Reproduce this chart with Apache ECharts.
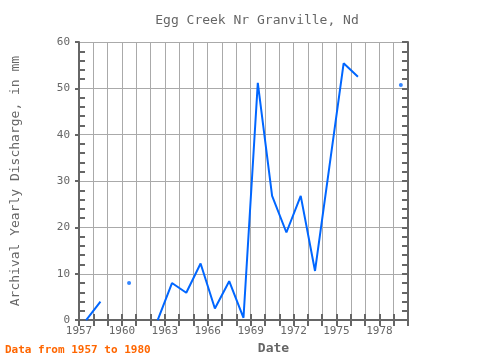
<!DOCTYPE html>
<html><head><meta charset="utf-8">
<script src="https://cdn.jsdelivr.net/npm/echarts@6/dist/echarts.min.js"></script>
<style>html,body{margin:0;padding:0;background:#fff}#c{width:480px;height:360px}</style>
</head><body><div id="c"></div>
<script>
var years = [1957.5,1958.5,1959.5,1960.5,1961.5,1962.5,1963.5,1964.5,1965.5,1966.5,1967.5,1968.5,1969.5,1970.5,1971.5,1972.5,1973.5,1974.5,1975.5,1976.5,1977.5,1978.5,1979.5];
var discharge = [0,4.0,null,8.0,null,0,8.0,5.9,12.2,2.5,8.4,0.5,51.2,26.8,18.9,26.8,10.6,33.0,55.4,52.5,null,null,50.7];
var xTicks = [1957,1960,1963,1966,1969,1972,1975,1978];
var yTicks = [0,10,20,30,40,50,60];

var lineData = years.map(function(y,i){return [y, discharge[i]];});
var isolated = [];
for (var i=0;i<discharge.length;i++){
  var v=discharge[i];
  if (v===null) continue;
  var prev = i>0 ? discharge[i-1] : null;
  var next = i<discharge.length-1 ? discharge[i+1] : null;
  if (prev===null && next===null) isolated.push([years[i], v]);
}
var font = 'DejaVu Sans Mono';
var grey = '#666';
var chart = echarts.init(document.getElementById('c'));
var xBase = {type:'value', min:1957, max:1980, interval:3,
  axisLine:{show:true, lineStyle:{color:grey,width:2}},
  axisTick:{show:true, inside:true, length:6, lineStyle:{color:grey,width:2}},
  minorTick:{show:true, splitNumber:3, length:6, lineStyle:{color:grey,width:2}},
  splitLine:{show:false}};
chart.setOption({
  animation:false,
  title:{text:'Egg Creek Nr Granville, Nd', left:252, top:9, textAlign:'center',
    textStyle:{fontFamily:font, fontSize:13, fontWeight:'normal', color:grey}},
  graphic:[{type:'text', left:5, top:345, style:{text:'Data from 1957 to 1980', fontFamily:font, fontSize:11, fontWeight:'bold', fill:'#ff6600'}}],
  grid:{left:79, right:72, top:42, bottom:39},
  xAxis:[
    Object.assign({}, xBase, {position:'bottom',
      name:'Date', nameLocation:'middle', nameGap:20,
      nameTextStyle:{fontFamily:font, fontSize:13, fontWeight:'bold', color:grey, padding:[0,0,0,60]},
      axisLabel:{fontFamily:font, fontSize:11, color:grey, margin:6,
        customValues: xTicks, formatter:function(v){return String(v);}},
      splitLine:{show:true, lineStyle:{color:'#aaa', width:1}},
      minorSplitLine:{show:true, lineStyle:{color:'#aaa', width:1}}}),
    Object.assign({}, xBase, {position:'top', axisLabel:{show:false}})
  ],
  yAxis:[
    {type:'value', min:0, max:60, interval:10, position:'left',
      name:'Archival Yearly Discharge, in mm', nameLocation:'middle', nameGap:57,
      nameTextStyle:{fontFamily:font, fontSize:13, color:grey},
      axisLine:{show:true, lineStyle:{color:grey,width:2}},
      axisTick:{show:true, inside:false, length:4, lineStyle:{color:grey,width:2}},
      minorTick:{show:true, splitNumber:5, length:-6, lineStyle:{color:grey,width:2}},
      axisLabel:{fontFamily:font, fontSize:11, color:grey, margin:9},
      splitLine:{show:true, lineStyle:{color:'#aaa', width:1}}},
    {type:'value', min:0, max:60, interval:10, position:'right',
      axisLine:{show:true, lineStyle:{color:grey,width:2}},
      axisTick:{show:true, inside:true, length:6, lineStyle:{color:grey,width:2}},
      minorTick:{show:true, splitNumber:5, length:6, lineStyle:{color:grey,width:2}},
      axisLabel:{show:false}, splitLine:{show:false}}
  ],
  series:[
    {type:'line', data:lineData, connectNulls:false, showSymbol:false, symbol:'none',
      lineStyle:{color:'#0066ff', width:2}, z:5},
    {type:'scatter', data:isolated, symbol:'circle', symbolSize:4,
      itemStyle:{color:'#0066ff'}, z:6}
  ]
});
</script></body></html>
